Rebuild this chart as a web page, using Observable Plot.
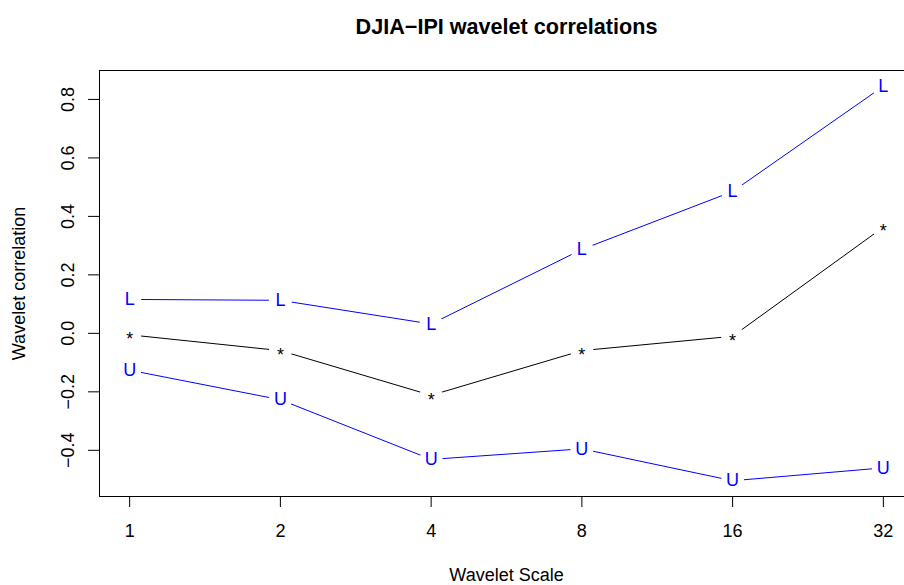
<!DOCTYPE html>
<html><head><meta charset="utf-8">
<script src="https://cdn.jsdelivr.net/npm/d3@7"></script>
<script src="https://cdn.jsdelivr.net/npm/@observablehq/plot@0.6"></script>
<style>
html,body{margin:0;padding:0;background:#fff;overflow:hidden;width:904px;height:585px;}
</style></head><body><div id="chart"></div>
<script>
// ---- data ----
const scales = [1, 2, 4, 8, 16, 32];
const seriesL = [0.116, 0.113, 0.032, 0.287, 0.485, 0.845];      // blue "L"
const seriesStar = [-0.005, -0.059, -0.212, -0.059, -0.010, 0.363]; // black "*"
const seriesU = [-0.126, -0.227, -0.431, -0.395, -0.504, -0.460];  // blue "U"
const xTicks = [1, 2, 4, 8, 16, 32];
const yTicks = [-0.4, -0.2, 0, 0.2, 0.4, 0.6, 0.8];
const titleText = "DJIA\u2212IPI wavelet correlations";
const xLabel = "Wavelet Scale";
const yLabel = "Wavelet correlation";

const rowsL = scales.map((s, i) => ({scale: s, value: seriesL[i]}));
const rowsS = scales.map((s, i) => ({scale: s, value: seriesStar[i]}));
const rowsU = scales.map((s, i) => ({scale: s, value: seriesU[i]}));
const allRows = [...rowsL, ...rowsS, ...rowsU];

// R-style 4% axis extension
const vals = allRows.map(d => d.value);
const ymin = d3.min(vals), ymax = d3.max(vals), dy = ymax - ymin;
const lx0 = Math.log2(d3.min(scales)), lx1 = Math.log2(d3.max(scales)), dlx = lx1 - lx0;

const blue = "#0000ff";
const chart = Plot.plot({
  width: 920, height: 585,
  marginLeft: 99, marginRight: 7, marginTop: 70, marginBottom: 89,
  style: {fontFamily: "'Liberation Sans', Arial, Helvetica, sans-serif", fontSize: "18px",
          maxWidth: "none", overflow: "hidden", background: "white", color: "black"},
  x: {type: "log", base: 2, domain: [2 ** (lx0 - 0.04 * dlx), 2 ** (lx1 + 0.04 * dlx)]},
  y: {domain: [ymin - 0.04 * dy, ymax + 0.04 * dy]},
  marks: [
    Plot.lineY(rowsL, {x: "scale", y: "value", stroke: blue, strokeWidth: 1}),
    Plot.lineY(rowsS, {x: "scale", y: "value", stroke: "black", strokeWidth: 1}),
    Plot.lineY(rowsU, {x: "scale", y: "value", stroke: blue, strokeWidth: 1}),
    Plot.dot(allRows, {x: "scale", y: "value", r: 11.5, fill: "white", stroke: null}),
    Plot.text(rowsL, {x: "scale", y: "value", text: () => "L", fill: blue, fontSize: 18, lineAnchor: "middle"}),
    Plot.text(rowsU, {x: "scale", y: "value", text: () => "U", fill: blue, fontSize: 18, lineAnchor: "middle"}),
    Plot.text(rowsS, {x: "scale", y: "value", text: () => "*", fill: "black", fontSize: 18, lineAnchor: "middle", dy: 4.5}),
    Plot.frame({stroke: "black", strokeWidth: 1}),
    Plot.axisX({ticks: xTicks, tickSize: 11, tickPadding: 17, tickFormat: d => String(d), label: null}),
    Plot.axisY({ticks: yTicks, tickSize: 11, tickRotate: -90, tickPadding: 14.5, tickFormat: d3.format(".1f"), label: null}),
    Plot.text([yLabel], {frameAnchor: "left", dx: -74.5, rotate: -90, lineAnchor: "bottom", textAnchor: "middle", fontSize: 18}),
    Plot.text([xLabel], {frameAnchor: "bottom", dy: 84.5, lineAnchor: "bottom", fontSize: 18}),
    Plot.text([titleText], {frameAnchor: "top", dy: -37, lineAnchor: "bottom", fontWeight: "bold", fontSize: 21.6})
  ]
});
document.getElementById("chart").appendChild(chart);
</script>
</body></html>
